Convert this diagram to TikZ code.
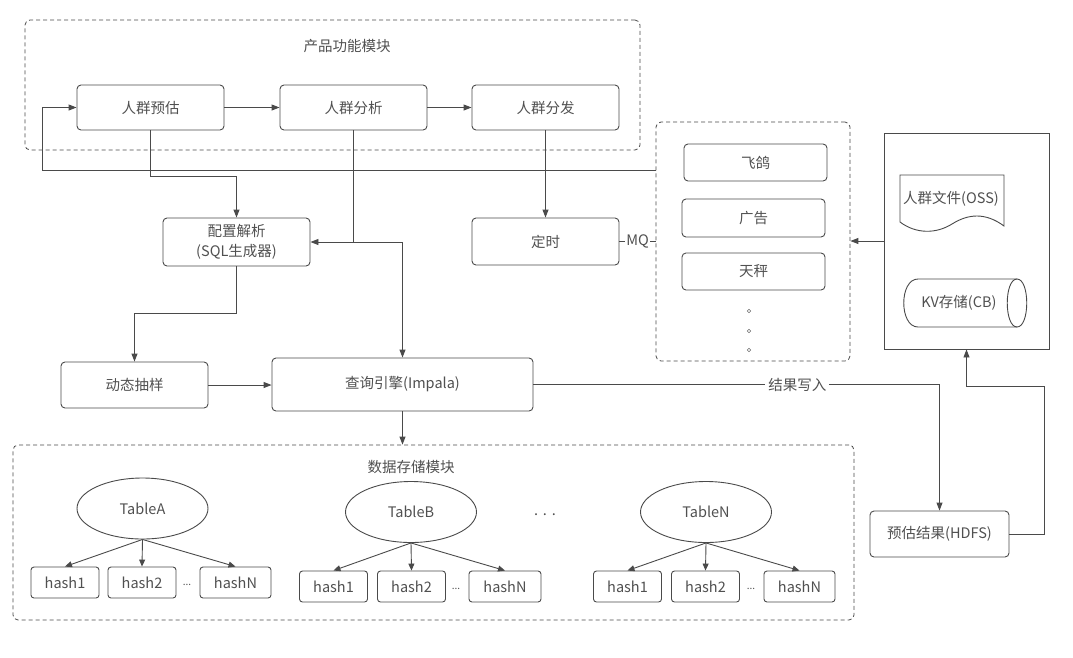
\documentclass[tikz,border=0pt]{standalone}
\usepackage{fontspec}
\newfontfamily\cjk{Noto Sans CJK SC}
\usetikzlibrary{shapes.geometric,arrows.meta,calc}
\definecolor{linec}{HTML}{4A4A4A}
\definecolor{textc}{HTML}{505050}
\begin{document}
\begin{tikzpicture}[x=1pt,y=-1pt,
  every node/.style={text=textc, font=\cjk\fontsize{14.5}{20}\selectfont, inner sep=0pt},
  rbox/.style={draw=linec, line width=0.9pt, rounded corners=4pt, align=center},
  sbox/.style={draw=linec, line width=0.9pt, rounded corners=3pt},
  dbox/.style={draw=linec, line width=0.8pt, dash pattern=on 4pt off 3pt, rounded corners=5pt},
  ln/.style={draw=linec, line width=0.9pt},
  arr/.style={ln, -{Triangle[length=8pt,width=6pt]}},
  arrb/.style={ln, {Triangle[length=8pt,width=6pt]}-{Triangle[length=8pt,width=6pt]}},
  tbl/.style={ellipse, draw=linec, line width=0.9pt, minimum width=131pt, minimum height=61pt},
  hsh/.style={sbox, minimum width=68pt, minimum height=31pt}
]
\useasboundingbox (0,0) rectangle (1073,657);

% dashed containers
\node[dbox, minimum width=615pt, minimum height=130pt] (top) at (332.5,85) {};
\node at (347,46) (toplbl) {产品功能模块};
\node[dbox, minimum width=194pt, minimum height=239pt] (ch) at (753,241.5) {};
\node[dbox, minimum width=841pt, minimum height=175pt] (db) at (433.5,532.5) {};
\node at (411,467) (dblbl) {数据存储模块};

% product boxes
\node[rbox, minimum width=147pt, minimum height=45pt] (yg) at (150.5,107.5) {人群预估};
\node[rbox, minimum width=147pt, minimum height=45pt] (fx) at (353.5,107.5) {人群分析};
\node[rbox, minimum width=147pt, minimum height=45pt] (ff) at (545.5,107.5) {人群分发};

\node[rbox, minimum width=147pt, minimum height=48pt] (pz) at (236.5,242) {配置解析\\(SQL生成器)};
\node[rbox, minimum width=147pt, minimum height=47pt] (ds) at (545.5,241.5) {定时};

% channels
\node[rbox, minimum width=143pt, minimum height=37pt] (fg) at (755.5,162.5) {飞鸽};
\node[rbox, minimum width=143pt, minimum height=38pt] (gg) at (753.5,218) {广告};
\node[rbox, minimum width=143pt, minimum height=37pt] (tc) at (753.5,271.5) {天秤};
\node[circle, draw=linec!80, line width=0.5pt, minimum size=3.5pt] (d1) at (749,311) {};
\node[circle, draw=linec!80, line width=0.5pt, minimum size=3.5pt] (d2) at (749,331) {};
\node[circle, draw=linec!80, line width=0.5pt, minimum size=3.5pt] (d3) at (749,350) {};

% right storage box
\node[draw=linec, line width=0.9pt, minimum width=165pt, minimum height=216pt] (rb) at (966.5,241) {};
\draw[ln, fill=white] (900,175) -- (1004,175) -- (1004,226)
  .. controls (985,212) and (968,214) .. (952,224)
  .. controls (936,234) and (916,234) .. (900,222) -- cycle;
\node (oss) at (951,199) {人群文件(OSS)};
\draw[ln] (1017,279) -- (918,279) .. controls (899,279) and (899,327) .. (918,327) -- (1017,327);
\draw[ln] (1017,279) .. controls (1030,279) and (1030,327) .. (1017,327)
  .. controls (1004,327) and (1004,279) .. (1017,279);
\node (kv) at (959,303) {KV存储(CB)};

% lower row
\node[rbox, minimum width=147pt, minimum height=46pt] (dt) at (134.5,385) {动态抽样};
\node[rbox, minimum width=261pt, minimum height=53pt] (cx) at (402.5,384.5) {查询引擎(Impala)};
\node[rbox, minimum width=139pt, minimum height=46pt] (yj) at (939.5,534) {预估结果(HDFS)};

% tables
\node[tbl] (ta) at (142.5,508.5) {TableA};
\node[tbl] (tb) at (411,512) {TableB};
\node[tbl] (tn) at (706,512) {TableN};
\node (tdots) at (545,515) {.\,\,.\,\,.};

\node[hsh] (a1) at (65,582.5) {hash1};
\node[hsh] (a2) at (142,582.5) {hash2};
\node (adots) at (187,585) {\fontsize{10}{12}\selectfont ...};
\node[hsh, minimum width=71pt] (an) at (235.5,582.5) {hashN};

\node[hsh] (b1) at (333.5,586.5) {hash1};
\node[hsh] (b2) at (411.5,586.5) {hash2};
\node (bdots) at (456,589) {\fontsize{10}{12}\selectfont ...};
\node[hsh, minimum width=72pt] (bn) at (505,586.5) {hashN};

\node[hsh] (n1) at (627.5,586.5) {hash1};
\node[hsh] (n2) at (705.5,586.5) {hash2};
\node (ndots) at (751,589) {\fontsize{10}{12}\selectfont ...};
\node[hsh, minimum width=71pt] (nn) at (799.5,586.5) {hashN};

% connectors
\draw[arr] (yg) -- (fx);
\draw[arr] (fx) -- (ff);
\coordinate (lp1) at (42,170.5);
\coordinate (lp2) at (42,107.5);
\draw[arr] (ch.west |- lp1) -- (lp1) -- (lp2) -- (yg.west);
\coordinate (j1) at (236.5,176);
\draw[arr] (yg.south) |- (j1) -- (pz.north);
\draw[ln] (fx.south) -- (fx.south |- pz.east);
\coordinate (j2) at (402.5,242);
\draw[arrb] (pz.east) -- (j2) -- (cx.north);
\draw[arr] (ff.south) -- (ds.north);
\draw[ln] (ds.east) -- node[fill=white, inner xsep=1pt] (mq) {MQ} (ch.west |- ds.east);
\draw[arr] (rb.west) -- (ch.east |- rb.west);
\coordinate (j3) at (236.5,313);
\draw[arr] (pz.south) -- (j3) -| (dt.north);
\draw[arr] (dt.east) -- (cx.west |- dt.east);
\draw[arr] (cx.south) -- (db.north -| cx.south);
\draw[arr] (cx.east) -| node[pos=0.325, fill=white, inner xsep=3pt] (jg) {结果写入} (yj.north);
\coordinate (j4) at (1044,386);
\draw[arr] (yj.east) -| (j4) -| (rb.south);

\foreach \t/\h in {ta/a1,ta/a2,ta/an,tb/b1,tb/b2,tb/bn,tn/n1,tn/n2,tn/nn}
  \draw[ln, -{Triangle[length=7pt,width=6pt]}] (\t.south) -- (\h.north);
\end{tikzpicture}
\end{document}
